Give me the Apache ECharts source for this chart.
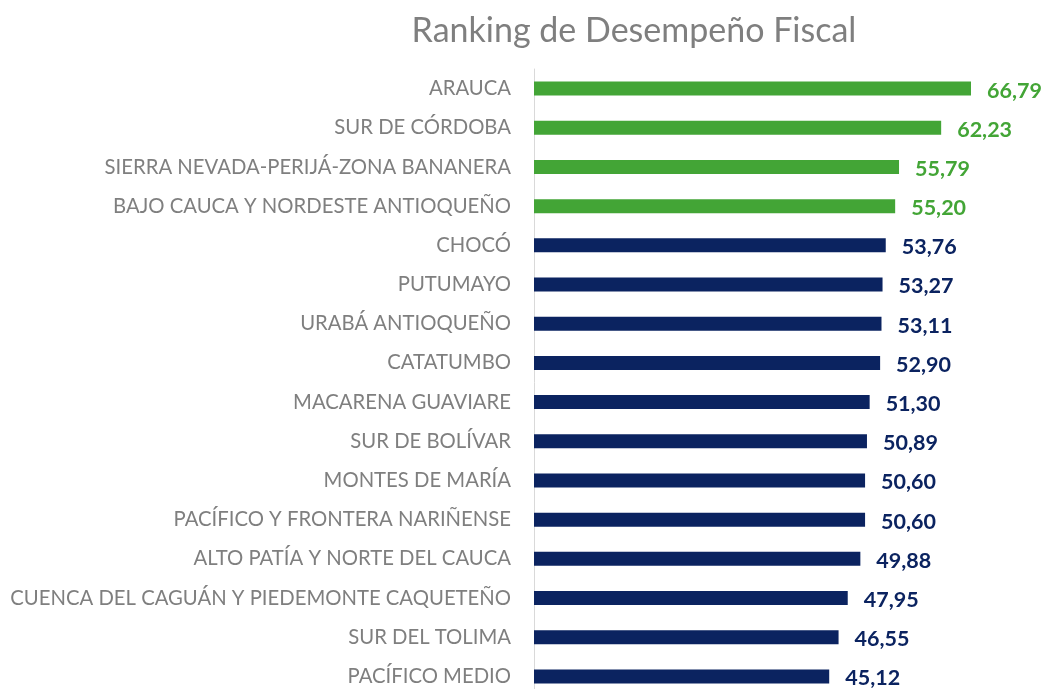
<!DOCTYPE html>
<html><head><meta charset="utf-8">
<script src="https://cdn.jsdelivr.net/npm/echarts@6/dist/echarts.min.js"></script>
<style>html,body{margin:0;padding:0;background:#fff;overflow:hidden}#c{width:1044px;height:697px}</style>
</head><body><div id="c"></div>
<script>
const categories = ["ARAUCA","SUR DE CÓRDOBA","SIERRA NEVADA-PERIJÁ-ZONA BANANERA","BAJO CAUCA Y NORDESTE ANTIOQUEÑO","CHOCÓ","PUTUMAYO","URABÁ ANTIOQUEÑO","CATATUMBO","MACARENA GUAVIARE","SUR DE BOLÍVAR","MONTES DE MARÍA","PACÍFICO Y FRONTERA NARIÑENSE","ALTO PATÍA Y NORTE DEL CAUCA","CUENCA DEL CAGUÁN Y PIEDEMONTE CAQUETEÑO","SUR DEL TOLIMA","PACÍFICO MEDIO"];
const values = [66.79,62.23,55.79,55.20,53.76,53.27,53.11,52.90,51.30,50.89,50.60,50.60,49.88,47.95,46.55,45.12];
const highlightCount = 4;
const GREEN = '#43a536', NAVY = '#0b2360';
const chart = echarts.init(document.getElementById('c'));
chart.setOption({
  animation:false,
  title:{text:'Ranking de Desempeño Fiscal',left:633,textAlign:'center',top:9,textStyle:{fontFamily:'Lato',fontWeight:'normal',fontSize:34,color:'#7f7f7f'}},
  grid:{left:534,top:69,width:458,height:627},
  xAxis:{type:'value',min:0,max:70,show:false},
  yAxis:{type:'category',data:categories,inverse:true,
    axisLine:{show:true,lineStyle:{color:'#d9d9d9',width:1}},axisTick:{show:false},
    axisLabel:{margin:23,fontFamily:'Lato',fontSize:20.3,color:'#7f7f7f',padding:[3,0,0,0]}},
  series:[{type:'bar',barWidth:14,
    data:values.map((v,i)=>({value:v,itemStyle:{color:i<highlightCount?GREEN:NAVY},label:{color:i<highlightCount?GREEN:NAVY}})),
    label:{show:true,position:'right',distance:16,fontFamily:'Lato',fontWeight:'bold',fontSize:21.5,offset:[0,2],
      formatter:p=>p.value.toFixed(2).replace('.',',')}}]
});
chart.setOption({title:{left:629}});
</script></body></html>
